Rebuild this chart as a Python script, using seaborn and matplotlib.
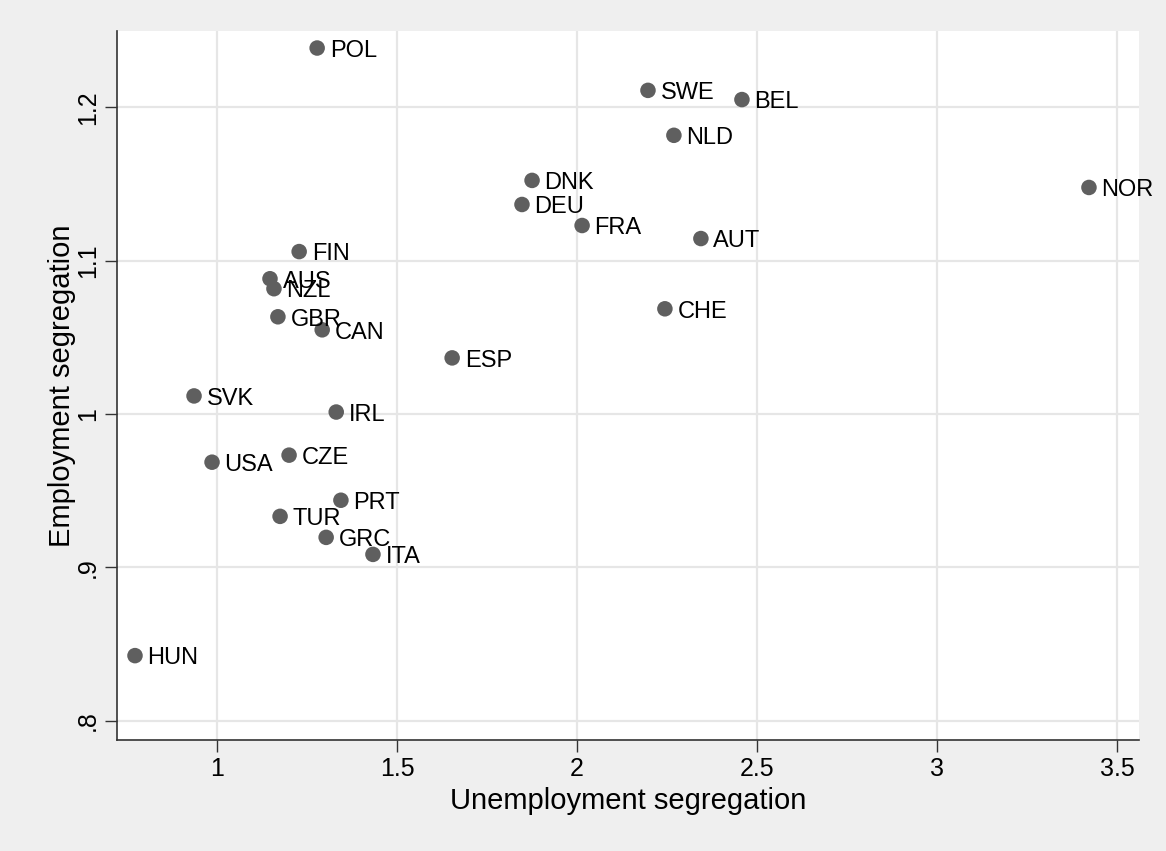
import matplotlib
matplotlib.use("Agg")
import matplotlib.pyplot as plt
import seaborn as sns
import pandas as pd

countries = ["POL", "SWE", "BEL", "NLD", "DNK", "DEU", "FRA", "NOR", "AUT", "CHE",
             "FIN", "AUS", "NZL", "GBR", "CAN", "ESP", "SVK", "IRL", "USA", "CZE",
             "PRT", "TUR", "GRC", "ITA", "HUN"]
unemp_seg = [1.278, 2.197, 2.458, 2.269, 1.875, 1.847, 2.014, 3.422, 2.344, 2.244,
             1.228, 1.147, 1.158, 1.169, 1.292, 1.653, 0.936, 1.331, 0.986, 1.200,
             1.344, 1.175, 1.303, 1.433, 0.772]
emp_seg = [1.2386, 1.211, 1.205, 1.1817, 1.1523, 1.1366, 1.1229, 1.1477, 1.1144, 1.0686,
           1.1059, 1.0882, 1.0817, 1.0634, 1.0549, 1.0366, 1.0118, 1.0013, 0.9686, 0.9732,
           0.9438, 0.9333, 0.9196, 0.9085, 0.8425]
x_ticks = [1, 1.5, 2, 2.5, 3, 3.5]
x_ticklabels = ["1", "1.5", "2", "2.5", "3", "3.5"]
y_ticks = [0.8, 0.9, 1.0, 1.1, 1.2]
y_ticklabels = [".8", ".9", "1", "1.1", "1.2"]

df = pd.DataFrame({"country": countries, "x": unemp_seg, "y": emp_seg})

sns.set_style("white")
plt.rcParams["font.family"] = ["Liberation Sans", "DejaVu Sans"]
plt.rcParams["text.color"] = "black"
plt.rcParams["axes.labelcolor"] = "black"
plt.rcParams["xtick.color"] = "black"
plt.rcParams["ytick.color"] = "black"

fig = plt.figure(figsize=(11.66, 8.51), dpi=100, facecolor="#efefef")
ax = fig.add_axes([117 / 1166, 1 - 740 / 851, (1139 - 117) / 1166, (740 - 31) / 851])
ax.set_facecolor("white")

for v in x_ticks:
    ax.axvline(v, color="#e6e6e6", lw=1.6, zorder=0)
for v in y_ticks:
    ax.axhline(v, color="#e6e6e6", lw=1.6, zorder=0)

sns.scatterplot(data=df, x="x", y="y", ax=ax, color="#5f5f5f", s=125,
                edgecolor="none", zorder=3, legend=False)

for c, xv, yv in zip(countries, unemp_seg, emp_seg):
    ax.annotate(c, (xv, yv), xytext=(9, -2), textcoords="offset points",
                ha="left", va="center", fontsize=17, color="black", zorder=4)

ax.set_xlim(0.722, 3.561)
ax.set_ylim(0.7875, 1.2497)
ax.set_xticks(x_ticks)
ax.set_xticklabels(x_ticklabels)
ax.set_yticks(y_ticks)
ax.set_yticklabels(y_ticklabels, rotation=90, va="center")
ax.tick_params(axis="both", direction="out", length=8.5, width=1, color="#333333",
               labelcolor="black", labelsize=18, pad=4, left=True, bottom=True)

for s in ["top", "right"]:
    ax.spines[s].set_visible(False)
for s in ["left", "bottom"]:
    ax.spines[s].set_color("#333333")
    ax.spines[s].set_linewidth(1.2)

ax.set_xlabel("Unemployment segregation", fontsize=21, labelpad=4)
ax.set_ylabel("Employment segregation", fontsize=21, labelpad=0)

fig.savefig("out.png", dpi=100, facecolor=fig.get_facecolor())
